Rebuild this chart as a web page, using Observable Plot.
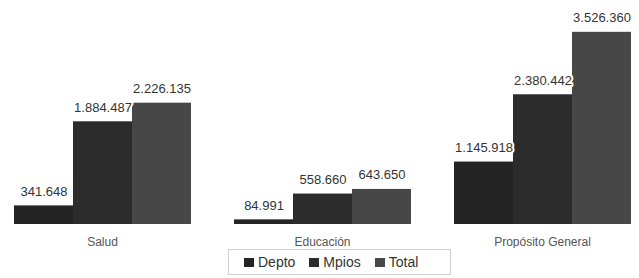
<!DOCTYPE html>
<html>
<head>
<meta charset="utf-8">
<script src="https://cdn.jsdelivr.net/npm/d3@7"></script>
<script src="https://cdn.jsdelivr.net/npm/@observablehq/plot@0.6"></script>
<style>
  html, body { margin: 0; padding: 0; background: #fff; }
  #chart { width: 639px; height: 278px; position: relative; font-family: "Liberation Sans", Arial, sans-serif; }
  #legend {
    position: absolute; left: 228px; top: 249px; width: 223px; height: 26px;
    border: 1px solid #cfcfcf; box-sizing: border-box;
    display: flex; align-items: center; font-size: 14px; color: #333;
  }
  #legend .item { display: flex; align-items: center; margin-left: 14px; }
  #legend .item:first-child { margin-left: 15px; }
  #legend .sw { width: 10px; height: 9px; margin-right: 4px; }
</style>
</head>
<body>
<div id="chart"><div id="legend"></div></div>
<script>
const categories = ["Salud", "Educación", "Propósito General"];
const series = ["Depto", "Mpios", "Total"];
const deptoValues = [341648, 84991, 1145918];
const mpiosValues = [1884487, 558660, 2380442];
const totalValues = [2226135, 643650, 3526360];
const colors = ["#242424", "#2c2c2c", "#474747"];

const valuesBySeries = [deptoValues, mpiosValues, totalValues];
const data = [];
categories.forEach((c, i) => {
  series.forEach((s, j) => data.push({cat: c, serie: s, value: valuesBySeries[j][i]}));
});

const locale = d3.formatLocale({decimal: ",", thousands: ".", grouping: [3], currency: ["$", ""]});
const fmt = locale.format(",d");

const plot = Plot.plot({
  width: 639,
  height: 248,
  marginTop: 0,
  marginBottom: 24,
  marginLeft: 12,
  marginRight: 6,
  style: {fontFamily: "Liberation Sans, Arial, sans-serif", fontSize: "12px", color: "#555", background: "#fff"},
  fx: {domain: categories, paddingInner: 0.19, paddingOuter: 0, axis: "bottom", label: null, tickSize: 0, tickPadding: 13},
  x: {domain: series, padding: 0, axis: null},
  y: {domain: [0, 4110000], axis: null},
  color: {domain: series, range: colors},
  marks: [
    Plot.barY(data, {fx: "cat", x: "serie", y: "value", fill: "serie"}),
    Plot.text(data, {
      fx: "cat", x: "serie", y: "value", text: d => fmt(d.value),
      lineAnchor: "bottom", dy: -10, fontSize: 13, fill: "#333",
      stroke: "white", strokeWidth: 4, paintOrder: "stroke"
    })
  ]
});
const chart = document.getElementById("chart");
chart.insertBefore(plot, chart.firstChild);

const legend = document.getElementById("legend");
series.forEach((s, i) => {
  const it = document.createElement("div");
  it.className = "item";
  const sw = document.createElement("div");
  sw.className = "sw";
  sw.style.background = colors[i];
  const t = document.createElement("span");
  t.textContent = s;
  it.appendChild(sw); it.appendChild(t);
  legend.appendChild(it);
});
</script>
</body>
</html>
